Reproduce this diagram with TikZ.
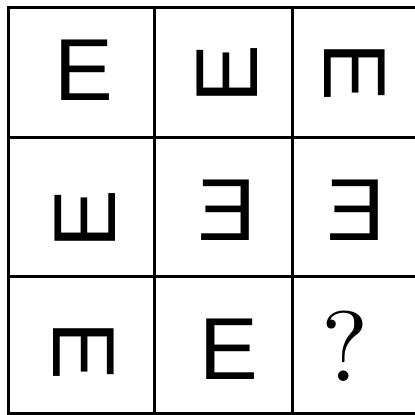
\documentclass[tikz,border=0pt]{standalone}
\usepackage{fontspec}
\setmainfont{Liberation Sans}
\newfontfamily\qfont[Extension=.otf]{lmroman10-regular}
\begin{document}
\begin{tikzpicture}[x=1pt,y=-1pt,
  gridline/.style={line width=3pt,black},
  glyph/.style={inner sep=0pt,font=\fontsize{88}{88}\selectfont},
  qmark/.style={inner sep=0pt,font=\qfont\fontsize{100}{100}\selectfont}]
\useasboundingbox (0,0) rectangle (415,415);
% grid
\draw[gridline] (415,7) -- (8,7) -- (8,413) -- (415,413);
\draw[gridline] (8,137) -- (415,137);
\draw[gridline] (8,276) -- (415,276);
\draw[gridline] (154,7) -- (154,413);
\draw[gridline] (292,7) -- (292,413);
% glyphs
\node[glyph] (a11) at (84,70.5) {E};
\node[glyph,rotate=90] (a12) at (227,74.5) {E};
\node[glyph,rotate=-90] (a13) at (354.5,72) {E};
\node[glyph,rotate=90] (a21) at (85.5,219) {E};
\node[glyph,xscale=-1] (a22) at (227,210.5) {E};
\node[glyph,xscale=-1] (a23) at (356,210) {E};
\node[glyph,rotate=-90] (a31) at (84,351) {E};
\node[glyph] (a32) at (228.5,349) {E};
\node[qmark] (a33) at (345,346) {?};
\end{tikzpicture}
\end{document}
